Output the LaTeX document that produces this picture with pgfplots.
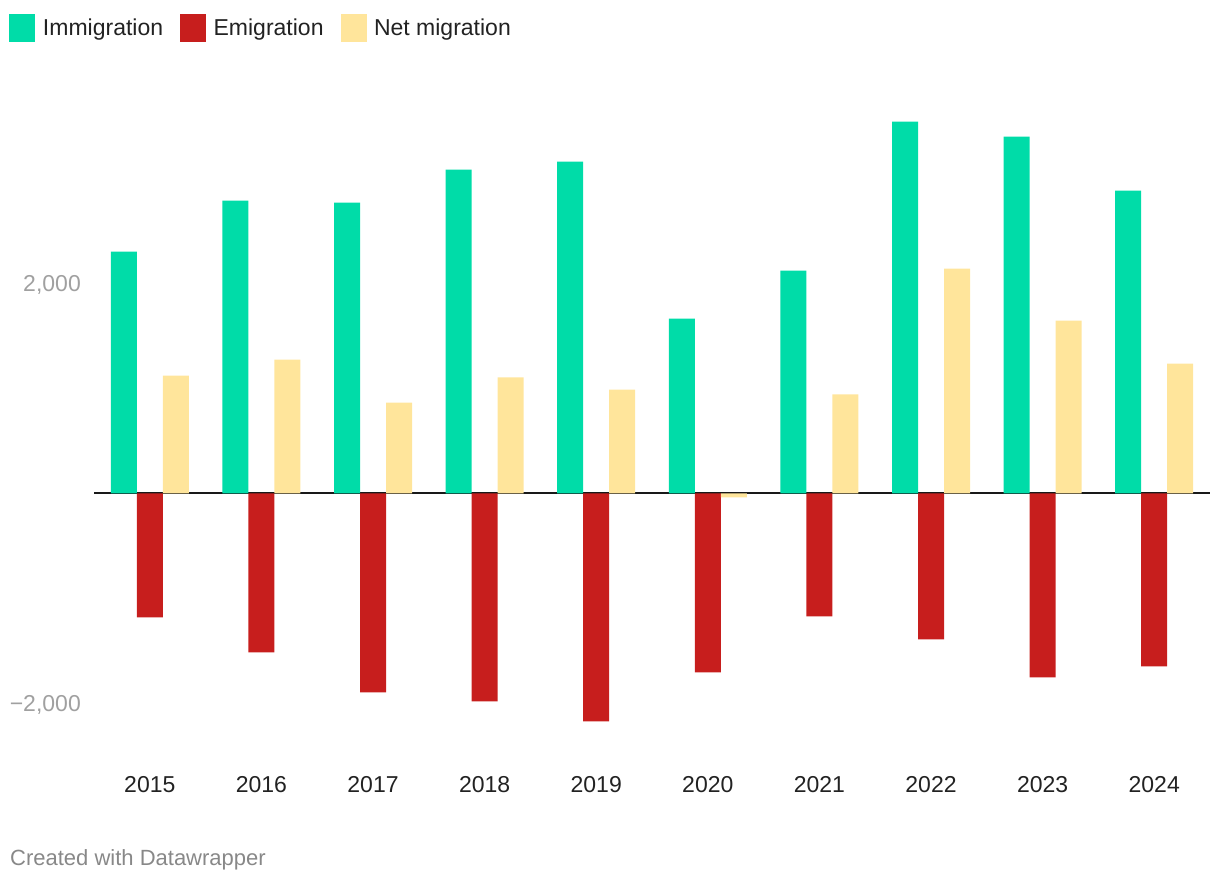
\documentclass[border=0pt]{standalone}
\usepackage{fontspec}
\setmainfont{Liberation Sans}
\usepackage{pgfplots}
\pgfplotsset{compat=1.18}

\definecolor{imm}{HTML}{00DCA8}
\definecolor{emi}{HTML}{C71E1D}
\definecolor{net}{HTML}{FFE59B}
\definecolor{txt}{HTML}{222222}
\definecolor{ticktxt}{HTML}{A0A0A0}
\definecolor{credit}{HTML}{888888}

% square legend swatch
\pgfplotsset{sq/.style={legend image code/.code={\fill[##1] (0pt,-13.5pt) rectangle (26pt,14pt);}}}

\begin{document}
\begin{tikzpicture}
\path[use as bounding box] (0pt,0pt) rectangle (1220pt,882pt);

\begin{axis}[
    at={(94pt,115.5pt)}, anchor=south west,
    scale only axis,
    width=1116pt, height=672pt,
    xmin=-0.5, xmax=9.5,
    ymin=-2600, ymax=3800,
    axis line style={draw=none},
    major tick length=0pt,
    xtick={0,...,9},
    xticklabels={2015,2016,2017,2018,2019,2020,2021,2022,2023,2024},
    xticklabel style={font=\fontsize{23}{27}\selectfont, text=txt,
        anchor=base, inner sep=0pt, yshift=-26pt},
    ytick={-2000,2000},
    yticklabels={{−2,000},{2,000}},
    yticklabel style={font=\fontsize{23}{27}\selectfont, text=ticktxt,
        anchor=base east, inner sep=0pt, xshift=-13pt, yshift=-8.25pt},
    extra y ticks={0},
    extra y tick labels={},
    extra y tick style={grid=major, major grid style={draw=black!90, line width=2pt}},
    legend columns=3,
    legend style={draw=none, fill=none, inner sep=0pt,
        at={(-0.0759,1.1198)}, anchor=north west,
        font=\fontsize{23}{27}\selectfont, text=txt,
        nodes={inner sep=0pt},
        /tikz/every odd column/.append style={column sep=7.5pt},
        /tikz/every even column/.append style={column sep=17pt}},
    legend cell align=left,
]

\addplot[ybar, bar width=26pt, bar shift=-26pt, fill=imm, draw=none, sq] coordinates {
    (0,2304) (1,2790) (2,2771) (3,3085) (4,3161)
    (5,1666) (6,2123) (7,3541) (8,3399) (9,2885)
};
\addplot[ybar, bar width=26pt, bar shift=0pt, fill=emi, draw=none, sq] coordinates {
    (0,-1180) (1,-1514) (2,-1895) (3,-1980) (4,-2171)
    (5,-1704) (6,-1171) (7,-1390) (8,-1752) (9,-1647)
};
\addplot[ybar, bar width=26pt, bar shift=26pt, fill=net, draw=none, sq] coordinates {
    (0,1123) (1,1276) (2,866) (3,1105) (4,990)
    (5,-38) (6,943) (7,2142) (8,1647) (9,1238)
};
\legend{Immigration, Emigration, Net migration}
\end{axis}

\node[anchor=base west, inner sep=0pt, text=credit, font=\fontsize{22}{26}\selectfont]
    at (10pt,16pt) {Created with Datawrapper};
\end{tikzpicture}
\end{document}
